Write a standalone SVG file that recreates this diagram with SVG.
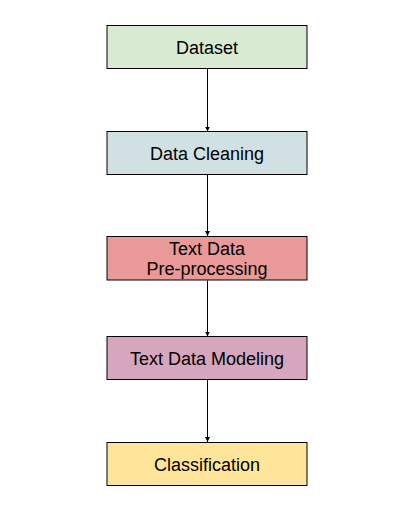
<svg xmlns="http://www.w3.org/2000/svg" width="414" height="518" viewBox="0 0 414 518">
<style>
.box{stroke:#000;stroke-width:1}
.lbl{font-family:"Liberation Sans",Arial,sans-serif;font-size:18px;fill:#000;text-anchor:middle}
.edge{stroke:#000;stroke-width:1;fill:none}
</style>
<defs>
<marker id="ah" viewBox="0 0 10 10" refX="10" refY="5" markerWidth="5" markerHeight="5" orient="auto" markerUnits="userSpaceOnUse">
<path d="M0,0 L10,5 L0,10 z" fill="#000"/>
</marker>
</defs>
<rect width="414" height="518" fill="#fff"/>
<g id="connectors">
<line class="edge" x1="207.5" y1="68.5" x2="207.5" y2="131.5" marker-end="url(#ah)"/>
<line class="edge" x1="207.5" y1="174.5" x2="207.5" y2="236" marker-end="url(#ah)"/>
<line class="edge" x1="207.5" y1="280.5" x2="207.5" y2="336.5" marker-end="url(#ah)"/>
<line class="edge" x1="207.5" y1="379.5" x2="207.5" y2="442" marker-end="url(#ah)"/>
</g>
<g id="dataset">
<rect class="box" x="107" y="25.5" width="200" height="43" fill="#d9ead3"/>
<text class="lbl" x="207" y="53.5">Dataset</text>
</g>
<g id="data-cleaning">
<rect class="box" x="107" y="131.5" width="200" height="43" fill="#d0e0e3"/>
<text class="lbl" x="207" y="159.5">Data Cleaning</text>
</g>
<g id="text-preprocessing">
<rect class="box" x="107" y="236.5" width="200" height="43.5" fill="#ea9999"/>
<text class="lbl" x="207" y="254.5">Text Data</text>
<text class="lbl" x="207" y="275">Pre-processing</text>
</g>
<g id="text-modeling">
<rect class="box" x="107" y="336.5" width="200" height="43" fill="#d5a6bd"/>
<text class="lbl" x="207" y="365">Text Data Modeling</text>
</g>
<g id="classification">
<rect class="box" x="107" y="442.5" width="200" height="43" fill="#ffe599"/>
<text class="lbl" x="207" y="470.5">Classification</text>
</g>
</svg>
